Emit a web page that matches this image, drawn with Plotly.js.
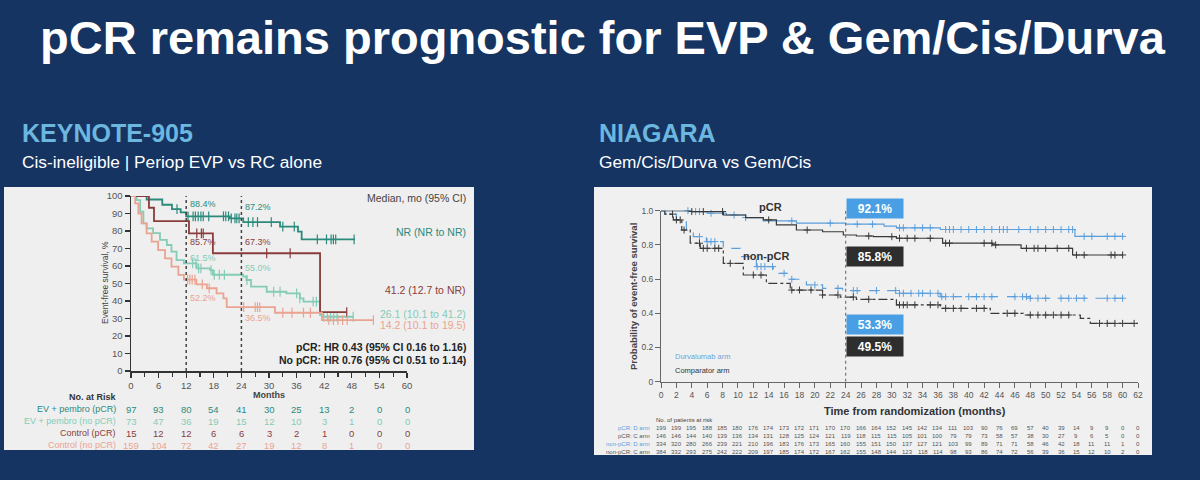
<!DOCTYPE html>
<html>
<head>
<meta charset="utf-8">
<script src="https://cdn.plot.ly/plotly-3.0.1.min.js"></script>
<style>
  html, body { margin: 0; padding: 0; background: #163462; }
  #chart { width: 1200px; height: 480px; }
</style>
</head>
<body>
<div id="chart"></div>
<script>
// ---------- KEYNOTE-905: event-free survival (%) by arm and pCR status ----------
const knEvpPcrT   = [0, 3.4, 6.8, 8.9, 10.8, 12, 21.5, 24.4, 32.4, 36.3, 37.1, 48.7];
const knEvpPcrS   = [100, 98.0, 95.0, 92.5, 90.7, 88.4, 87.2, 85.1, 82.5, 79.6, 75.2, 75.2];
const knEvpPcrCens = [10, 12.4, 13.5, 14, 14.6, 15.2, 15.7, 16.9, 20.1, 20.6, 21.2, 21.8, 22.6, 23, 23.5,
                      25.5, 26.5, 27.5, 30.5, 33, 35.5, 40.5, 42.5, 43.5, 44, 44.5, 48.5];

const knEvpNoT = [0, 1.2, 2.0, 2.7, 3.4, 4.8, 6.3, 7.8, 8.8, 9.9, 11.5, 14.3, 17.2, 17.8, 24.4, 25.1, 26.1, 29.5, 33.8, 36.7, 37.5, 41.1, 41.5, 48.3];
const knEvpNoS = [100, 97.7, 91.0, 84.4, 81.5, 78.8, 74.9, 72.0, 68.2, 63.4, 61.5, 58.7, 57.7, 55.0, 53.9, 52.0, 48.2, 45.3, 44.4, 41.5, 39.6, 32.0, 31.0, 31.0];
const knEvpNoCens = [13.4, 14.1, 14.7, 15.2, 17.4, 18.1, 19.2, 20.3, 25.2, 31, 32.4, 36, 36.7, 39.6, 40.3,
                     41.9, 42.7, 43.4, 44.1, 44.8, 48.3];

const knCtrlPcrT = [0, 3.9, 5.0, 12.6, 17.8, 41.1, 46.9];
const knCtrlPcrS = [100, 93.3, 85.7, 78.6, 67.3, 33.6, 33.6];
const knCtrlPcrCens = [14.3, 15.3, 15.7, 29.5, 34.6, 46.9];

const knCtrlNoT = [0, 0.9, 1.6, 2.3, 3.4, 4.5, 5.9, 7.4, 8.8, 10.3, 11.5, 14.2, 16.5, 18.6, 20.1, 20.8, 31.3, 41.5, 52.7];
const knCtrlNoS = [100, 95.8, 90.0, 84.4, 78.7, 73.9, 69.1, 64.4, 59.6, 54.9, 52.2, 49.5, 47.3, 44.4, 41.5, 36.5, 33.3, 29.1, 29.1];
const knCtrlNoCens = [12.3, 12.8, 13.3, 13.9, 15.5, 17, 24.5, 27, 27.5, 28, 33, 35, 37.5, 39, 43, 44, 45, 46, 47, 52.7];

const knSeriesNames = ['EV + pembro (pCR)', 'EV + pembro (no pCR)', 'Control (pCR)', 'Control (no pCR)'];
// median EFS, months (95% CI), one per series above
const knMedians = ['NR (NR to NR)', '26.1 (10.1 to 41.2)', '41.2 (12.7 to NR)', '14.2 (10.1 to 19.5)'];
const knRiskMonths = [0, 6, 12, 18, 24, 30, 36, 42, 48, 54, 60];
const knRiskEvpPcr  = [97, 93, 80, 54, 41, 30, 25, 13, 2, 0, 0];
const knRiskEvpNo   = [73, 47, 36, 19, 15, 12, 10, 3, 1, 0, 0];
const knRiskCtrlPcr = [15, 12, 12, 6, 6, 3, 2, 1, 0, 0, 0];
const knRiskCtrlNo  = [159, 104, 72, 42, 27, 19, 12, 8, 1, 0, 0];
const knLandmarks = [12, 24];

// ---------- NIAGARA: probability of event-free survival ----------
const nPcrDT = [0, 4, 6, 8.5, 11, 13.3, 17.6, 24, 29, 30.6, 36.3, 53.8, 60];
const nPcrDS = [1, 0.995, 0.985, 0.975, 0.96, 0.94, 0.927, 0.921, 0.91, 0.90, 0.89, 0.85, 0.85];
const nPcrDCens = [3.5, 4.5, 5, 6.5, 9.5, 11, 17, 22, 25.5, 27.5, 31, 31.5, 33, 34, 35, 37, 37.5, 38, 39, 40, 41, 42,
                   43, 44, 44.5, 45, 46.5, 48, 49, 50, 51, 52, 53, 53.5, 55, 56, 58, 59, 60];

const nPcrCT = [0, 4, 8.1, 11, 13.3, 15, 17.6, 21, 23.7, 25.4, 27.6, 30.6, 36.6, 43.1, 46.8, 53.5, 60];
const nPcrCS = [1, 0.995, 0.975, 0.96, 0.946, 0.917, 0.887, 0.877, 0.858, 0.852, 0.848, 0.839, 0.81, 0.80, 0.78, 0.741, 0.741];
const nPcrCCens = [4, 5.5, 8, 14, 19, 27, 30, 31, 32, 33, 35, 37, 37.5, 42, 43, 43.5, 47.5, 48.5, 49, 50, 51.5,
                   53, 54, 55, 58.5, 59, 60];

const nNonDT = [0, 0.5, 2, 3.3, 4.2, 5.9, 8.1, 10.3, 12.4, 14.6, 16.7, 18.9, 21, 23.6, 30.6, 36.3, 48, 60];
const nNonDS = [1, 0.98, 0.946, 0.887, 0.848, 0.819, 0.78, 0.731, 0.673, 0.634, 0.599, 0.566, 0.546, 0.533, 0.517, 0.497, 0.488, 0.488];
const nNonDCens = [5, 6, 6.5, 7, 12.5, 13, 13.5, 14.5, 16, 17, 20, 23, 25, 25.5, 28, 30.5, 31, 31.5, 32.5, 33.5, 34,
                   35, 36, 36.5, 37, 38, 40, 41, 42, 43, 46, 47, 47.5, 48, 49, 50, 52, 53, 54, 55, 58, 59, 60];

const nNonCT = [0, 0.5, 1.6, 2.7, 3.8, 5.1, 8.1, 10.7, 13.7, 16.8, 21, 23.3, 25.4, 30.6, 36.3, 42.8, 47.1, 54.5, 55.8, 62];
const nNonCS = [1, 0.98, 0.946, 0.887, 0.81, 0.78, 0.692, 0.624, 0.575, 0.536, 0.507, 0.495, 0.482, 0.449, 0.429, 0.40, 0.39, 0.37, 0.341, 0.341];
const nNonCCens = [1.5, 2, 2.5, 3, 5, 5.5, 6, 7, 7.5, 9, 12, 13, 17, 18, 19.5, 21, 23, 25, 27, 31, 31.5, 32, 33, 35, 36,
                   37, 38, 39, 41, 42, 45, 46, 48, 49, 50, 51, 52, 53, 57, 58, 59, 60, 61.5];

const nRowNames = ['pCR: D arm', 'pCR: C arm', 'non-pCR: D arm', 'non-pCR: C arm'];
const nRiskMonths = [0, 2, 4, 6, 8, 10, 12, 14, 16, 18, 20, 22, 24, 26, 28, 30, 32, 34, 36, 38, 40, 42, 44, 46, 48, 50, 52, 54, 56, 58, 60, 62];
const nRiskPcrD = [199, 199, 195, 188, 185, 180, 176, 174, 173, 172, 171, 170, 170, 166, 164, 152, 145, 142, 134, 111, 103, 90, 76, 69, 57, 40, 39, 14, 9, 9, 0, 0];
const nRiskPcrC = [146, 146, 144, 140, 139, 136, 134, 131, 128, 125, 124, 121, 119, 118, 115, 115, 105, 101, 100, 79, 79, 73, 58, 57, 38, 30, 27, 9, 6, 5, 0, 0];
const nRiskNonD = [334, 320, 280, 266, 239, 221, 210, 196, 183, 176, 173, 165, 160, 155, 151, 150, 137, 127, 121, 103, 99, 89, 71, 71, 58, 46, 42, 18, 11, 11, 1, 0];
const nRiskNonC = [384, 332, 293, 275, 242, 222, 209, 197, 185, 174, 172, 167, 162, 155, 148, 144, 123, 118, 114, 98, 93, 86, 74, 72, 56, 39, 36, 15, 12, 10, 2, 0];
const nLandmark = 24;

// ---------- helpers ----------
const W = 1200, H = 480;
const px = x => x / W;
const py = y => 1 - y / H;
const FONT = 'Liberation Sans, Arial, Helvetica, sans-serif';

// value of a step (Kaplan-Meier) curve at time x
function stepAt(t, s, x) {
  let v = s[0];
  for (let i = 0; i < t.length; i++) { if (t[i] <= x + 1e-9) v = s[i]; }
  return v;
}

const knColors = ['#2b8a7c', '#84ccb6', '#8a3c3c', '#eba391'];
const knCurves = [
  [knEvpPcrT, knEvpPcrS, knEvpPcrCens],
  [knEvpNoT, knEvpNoS, knEvpNoCens],
  [knCtrlPcrT, knCtrlPcrS, knCtrlPcrCens],
  [knCtrlNoT, knCtrlNoS, knCtrlNoCens]
];
const knRisk = [knRiskEvpPcr, knRiskEvpNo, knRiskCtrlPcr, knRiskCtrlNo];

const nBlue = '#5b9fdc', nDark = '#3a3a3a';
const nCurves = [
  [nPcrDT, nPcrDS, nPcrDCens, nBlue, 'solid'],
  [nPcrCT, nPcrCS, nPcrCCens, nDark, 'solid'],
  [nNonDT, nNonDS, nNonDCens, nBlue, 'dash'],
  [nNonCT, nNonCS, nNonCCens, nDark, 'dashdot']
];
const nRisk = [nRiskPcrD, nRiskPcrC, nRiskNonD, nRiskNonC];

const traces = [];
knCurves.forEach((c, i) => {
  traces.push({ x: c[0], y: c[1], xaxis: 'x', yaxis: 'y', mode: 'lines', line: { shape: 'hv', color: knColors[i], width: 1.8 },
    name: knSeriesNames[i], cliponaxis: false, hoverinfo: 'skip' });
  traces.push({ x: c[2], y: c[2].map(t => stepAt(c[0], c[1], t)), xaxis: 'x', yaxis: 'y', mode: 'markers',
    marker: { symbol: 'line-ns-open', size: 7, color: knColors[i], line: { color: knColors[i], width: 1.2 } }, cliponaxis: false, hoverinfo: 'skip' });
});
nCurves.forEach((c, i) => {
  traces.push({ x: c[0], y: c[1], xaxis: 'x2', yaxis: 'y2', mode: 'lines', line: { shape: 'hv', color: c[3], width: 1.2, dash: c[4] },
    name: nRowNames[i], cliponaxis: false, hoverinfo: 'skip' });
  traces.push({ x: c[2], y: c[2].map(t => stepAt(c[0], c[1], t)), xaxis: 'x2', yaxis: 'y2', mode: 'markers',
    marker: { symbol: 'cross-thin-open', size: 5, color: c[3], line: { color: c[3], width: 1 } }, cliponaxis: false, hoverinfo: 'skip' });
});

const ann = [];
const A = o => ann.push(Object.assign({ showarrow: false, font: { family: FONT, size: 10, color: '#333' } }, o));

// section headers
A({ xref: 'paper', yref: 'paper', x: px(20), y: py(133), xanchor: 'left', yanchor: 'middle', text: '<b>KEYNOTE-905</b>', font: { family: FONT, size: 25, color: '#6cb7df' } });
A({ xref: 'paper', yref: 'paper', x: px(20), y: py(162), xanchor: 'left', yanchor: 'middle', text: 'Cis-ineligible | Periop EVP vs RC alone', font: { family: FONT, size: 17.3, color: '#ffffff' } });
A({ xref: 'paper', yref: 'paper', x: px(597), y: py(133), xanchor: 'left', yanchor: 'middle', text: '<b>NIAGARA</b>', font: { family: FONT, size: 25, color: '#6cb7df' } });
A({ xref: 'paper', yref: 'paper', x: px(597), y: py(162), xanchor: 'left', yanchor: 'middle', text: 'Gem/Cis/Durva vs Gem/Cis', font: { family: FONT, size: 17.3, color: '#ffffff' } });

// KEYNOTE-905 chart text
const knTextRight = 468;
A({ xref: 'paper', yref: 'paper', x: px(knTextRight), y: py(198), xanchor: 'right', yanchor: 'middle', text: 'Median, mo (95% CI)', font: { family: FONT, size: 10.5, color: '#444' } });
const medY = [232, 314, 290, 325];
knMedians.forEach((m, i) => A({ xref: 'paper', yref: 'paper', x: px(knTextRight), y: py(medY[i]), xanchor: 'right', yanchor: 'middle', text: m, font: { family: FONT, size: 10.5, color: knColors[i] } }));
A({ xref: 'paper', yref: 'paper', x: px(knTextRight), y: py(347), xanchor: 'right', yanchor: 'middle', text: '<b>pCR: HR 0.43 (95% CI 0.16 to 1.16)</b>', font: { family: FONT, size: 10.5, color: '#222' } });
A({ xref: 'paper', yref: 'paper', x: px(knTextRight), y: py(360), xanchor: 'right', yanchor: 'middle', text: '<b>No pCR: HR 0.76 (95% CI 0.51 to 1.14)</b>', font: { family: FONT, size: 10.5, color: '#222' } });
A({ xref: 'x', yref: 'paper', x: 30, y: py(394.5), xanchor: 'center', yanchor: 'middle', text: '<b>Months</b>', font: { family: FONT, size: 9, color: '#444' } });
A({ xref: 'paper', yref: 'paper', x: px(105), y: py(283), xanchor: 'center', yanchor: 'middle', textangle: -90, text: 'Event-free survival, %', font: { family: FONT, size: 8.5, color: '#444' } });

// landmark percentages (at 12 and 24 months)
const knLabelY = [[95.4, 93.7], [64.6, 58.9], [73.7, 73.7], [41.7, 30.3]];
knCurves.forEach((c, i) => {
  knLandmarks.forEach((m, j) => {
    A({ xref: 'x', yref: 'y', x: m + 0.3, y: knLabelY[i][j], xanchor: 'left', yanchor: 'middle',
      text: stepAt(c[0], c[1], m).toFixed(1) + '%', font: { family: FONT, size: 9, color: knColors[i] } });
  });
});

// KEYNOTE-905 risk table
A({ xref: 'paper', yref: 'paper', x: px(119), y: py(397), xanchor: 'right', yanchor: 'middle', text: '<b>No. at Risk</b>', font: { family: FONT, size: 9, color: '#333' } });
const knRowY = [409, 421, 433, 445];
knRisk.forEach((row, i) => {
  A({ xref: 'paper', yref: 'paper', x: px(118), y: py(knRowY[i]), xanchor: 'right', yanchor: 'middle', text: knSeriesNames[i], font: { family: FONT, size: 9, color: knColors[i] } });
  row.forEach((v, j) => A({ xref: 'x', yref: 'paper', x: knRiskMonths[j], y: py(knRowY[i]), xanchor: 'center', yanchor: 'middle', text: String(v), font: { family: FONT, size: 9.5, color: knColors[i] } }));
});

// NIAGARA chart text
A({ xref: 'paper', yref: 'paper', x: px(770), y: py(207), xanchor: 'center', yanchor: 'middle', text: '<b>pCR</b>', font: { family: FONT, size: 11, color: '#333' } });
A({ xref: 'paper', yref: 'paper', x: px(766), y: py(256), xanchor: 'center', yanchor: 'middle', text: '<b>non-pCR</b>', font: { family: FONT, size: 11, color: '#333' } });
A({ xref: 'paper', yref: 'paper', x: px(673), y: py(356), xanchor: 'left', yanchor: 'middle', text: 'Durvalumab arm', font: { family: FONT, size: 7.5, color: '#6aa6dc' } });
A({ xref: 'paper', yref: 'paper', x: px(673), y: py(370), xanchor: 'left', yanchor: 'middle', text: 'Comparator arm', font: { family: FONT, size: 7.5, color: '#333' } });
A({ xref: 'paper', yref: 'paper', x: px(633), y: py(297), xanchor: 'center', yanchor: 'middle', textangle: -90, text: '<b>Probability of event-free survival</b>', font: { family: FONT, size: 9.5, color: '#444' } });
A({ xref: 'paper', yref: 'paper', x: px(915), y: py(411), xanchor: 'center', yanchor: 'middle', text: '<b>Time from randomization (months)</b>', font: { family: FONT, size: 11, color: '#333' } });

// landmark boxes at 24 months (vertical centre in page pixels)
const nBoxPxY = [208, 256, 324, 346];
const nBoxColor = ['#4a9fe4', '#2e2e2e', '#4a9fe4', '#2e2e2e'];
nCurves.forEach((c, i) => {
  A({ xref: 'x2', yref: 'paper', x: nLandmark, y: py(nBoxPxY[i]), xanchor: 'left', yanchor: 'middle', width: 54, height: 17,
    bgcolor: nBoxColor[i], text: '<b>' + (stepAt(c[0], c[1], nLandmark) * 100).toFixed(1) + '%</b>',
    font: { family: FONT, size: 12, color: '#ffffff' } });
});

// NIAGARA risk table
A({ xref: 'paper', yref: 'paper', x: px(654), y: py(420), xanchor: 'left', yanchor: 'middle', text: 'No. of patients at risk', font: { family: FONT, size: 6, color: '#444' } });
const nRowY = [428, 436, 444, 451.5];
const nRowColor = [nBlue, '#555', nBlue, '#555'];
nRisk.forEach((row, i) => {
  A({ xref: 'paper', yref: 'paper', x: px(652), y: py(nRowY[i]), xanchor: 'right', yanchor: 'middle', text: nRowNames[i], font: { family: FONT, size: 6, color: nRowColor[i] } });
  row.forEach((v, j) => A({ xref: 'x2', yref: 'paper', x: nRiskMonths[j], y: py(nRowY[i]), xanchor: 'center', yanchor: 'middle', text: String(v), font: { family: FONT, size: 6, color: '#555' } }));
});

const shapes = [
  { type: 'rect', xref: 'paper', yref: 'paper', x0: px(4), x1: px(474), y0: py(450), y1: py(187), fillcolor: '#efefef', line: { width: 0 }, layer: 'below' },
  { type: 'rect', xref: 'paper', yref: 'paper', x0: px(594), x1: px(1152), y0: py(455), y1: py(187), fillcolor: '#f0f0f0', line: { width: 0 }, layer: 'below' }
];
knLandmarks.forEach(m => shapes.push({ type: 'line', xref: 'x', yref: 'y', x0: m, x1: m, y0: 0, y1: 100, line: { color: '#444', width: 1.5, dash: 'dot' } }));
shapes.push({ type: 'line', xref: 'x2', yref: 'y2', x0: nLandmark, x1: nLandmark, y0: 0, y1: 1.07, line: { color: '#777', width: 1.2, dash: 'dot' } });

const axBase = { showgrid: false, zeroline: false, showline: true, ticks: 'outside', fixedrange: true };
const layout = {
  width: W, height: H, autosize: false,
  margin: { l: 0, r: 0, t: 0, b: 0 },
  paper_bgcolor: '#163462', plot_bgcolor: 'rgba(0,0,0,0)',
  showlegend: false,
  font: { family: FONT },
  title: { text: '<b>pCR remains prognostic for EVP &amp; Gem/Cis/Durva</b>', x: 0.502, xanchor: 'center', y: py(38), yanchor: 'middle',
    font: { family: FONT, size: 47, color: '#ffffff' } },
  xaxis: Object.assign({}, axBase, { domain: [px(131), px(407)], range: [0, 60], anchor: 'y', tick0: 0, dtick: 6,
    linecolor: '#333', linewidth: 1.5, tickcolor: '#333', tickwidth: 1.3, ticklen: 5,
    minor: { dtick: 3, tick0: 0, ticks: 'outside', ticklen: 4, tickcolor: '#333', tickwidth: 1.2 },
    tickfont: { family: FONT, size: 9.5, color: '#555' } }),
  yaxis: Object.assign({}, axBase, { domain: [py(371), py(196)], range: [0, 100], anchor: 'x', tick0: 0, dtick: 10,
    linecolor: '#333', linewidth: 1.5, tickcolor: '#333', tickwidth: 1.3, ticklen: 5,
    tickfont: { family: FONT, size: 9.5, color: '#555' } }),
  xaxis2: Object.assign({}, axBase, { domain: [px(661), px(1138)], range: [0, 62], anchor: 'y2', tick0: 0, dtick: 2,
    linecolor: '#666', linewidth: 1, tickcolor: '#666', ticklen: 5,
    tickfont: { family: FONT, size: 8.5, color: '#555' } }),
  yaxis2: Object.assign({}, axBase, { domain: [py(381.7), py(210.7)], range: [0, 1], anchor: 'x2',
    tickvals: [0, 0.2, 0.4, 0.6, 0.8, 1], ticktext: ['0', '0.2', '0.4', '0.6', '0.8', '1.0'],
    linecolor: '#666', linewidth: 1, tickcolor: '#666', ticklen: 5,
    tickfont: { family: FONT, size: 8.5, color: '#555' } }),
  annotations: ann,
  shapes: shapes
};

Plotly.newPlot('chart', traces, layout, { staticPlot: true, displayModeBar: false });
</script>
</body>
</html>
